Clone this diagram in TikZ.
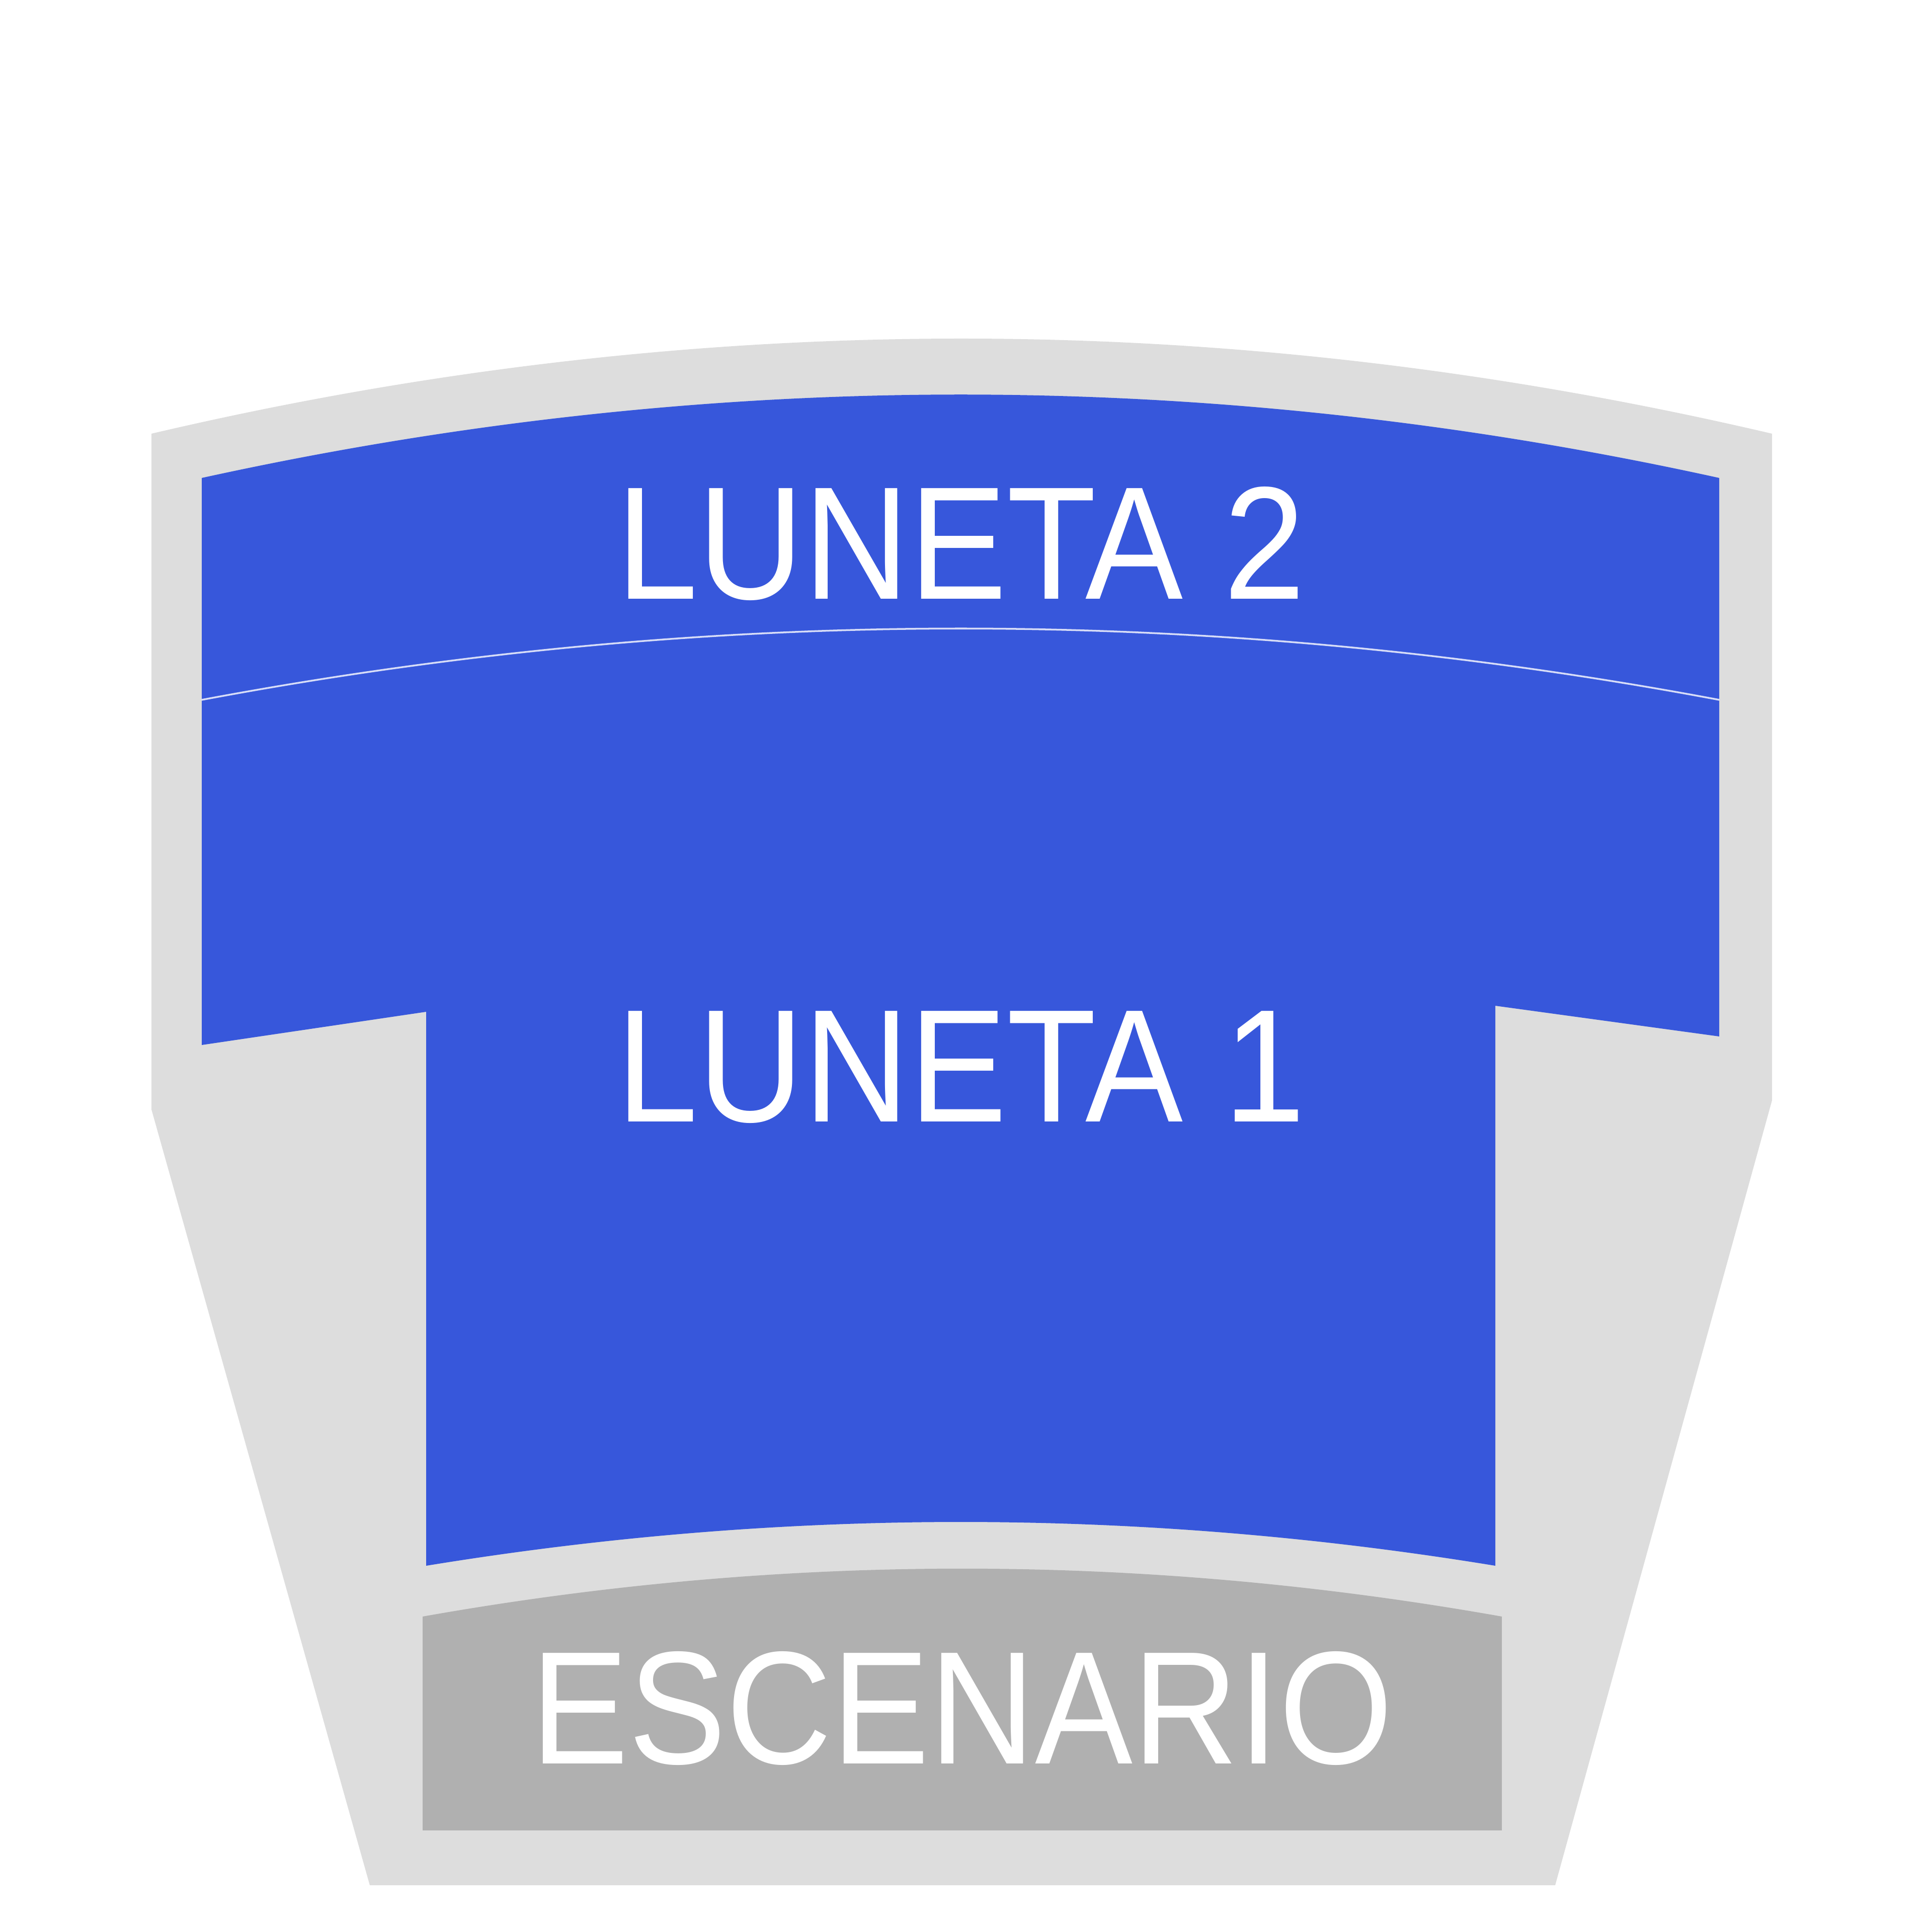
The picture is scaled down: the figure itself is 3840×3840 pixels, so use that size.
\documentclass[tikz,border=0pt]{standalone}
\usepackage{fontspec}
\setmainfont{Liberation Sans}
\definecolor{pasillo}{HTML}{DDDDDD}
\definecolor{luneta}{HTML}{3757DB}
\definecolor{escena}{HTML}{B0B0B0}
\begin{document}
\begin{tikzpicture}[line join=round,line cap=round,x=0.005cm,y=-0.005cm]
			\tikzset{zona/.style={text=white,anchor=base,inner sep=0pt,font=\fontsize{45.5}{52}\selectfont}}
			\useasboundingbox (0,0) rectangle (3840,3840);
			% sala
			\fill[pasillo] (301,862) .. controls (1374,610) and (2447,610) .. (3522,862)
				-- (3522,2187) -- (3091,3747) -- (735,3747) -- (301,2205) -- cycle;
			% luneta 2
			\fill[luneta] (401,950) .. controls (1407,729) and (2413,729) .. (3417,950)
				-- (3417,1391) .. controls (2413,1202) and (1407,1202) .. (401,1391) -- cycle;
			% luneta 1
			\fill[luneta] (401,1391) .. controls (1407,1202) and (2413,1202) .. (3417,1391)
				-- (3417,2060) -- (2972,1999) -- (2972,3112)
				.. controls (2264,2996) and (1555,2996) .. (847,3112)
				-- (847,2011) -- (401,2077) -- cycle;
			\draw[white!80!luneta,line width=0.5pt] (401,1391) .. controls (1407,1202) and (2413,1202) .. (3417,1391);
			% escenario
			\fill[escena] (840,3213) .. controls (1555,3086) and (2270,3086) .. (2985,3213)
				-- (2985,3638) -- (840,3638) -- cycle;
			\node[zona] (l2) at (1910,1191) {\scalebox{0.91}[1]{LUNETA 2}};
			\node[zona] (l1) at (1910,2229) {\scalebox{0.91}[1]{LUNETA 1}};
			\node[zona] (esc) at (1912,3505) {\scalebox{0.91}[1]{ESCENARIO}};
		\end{tikzpicture}
\end{document}
